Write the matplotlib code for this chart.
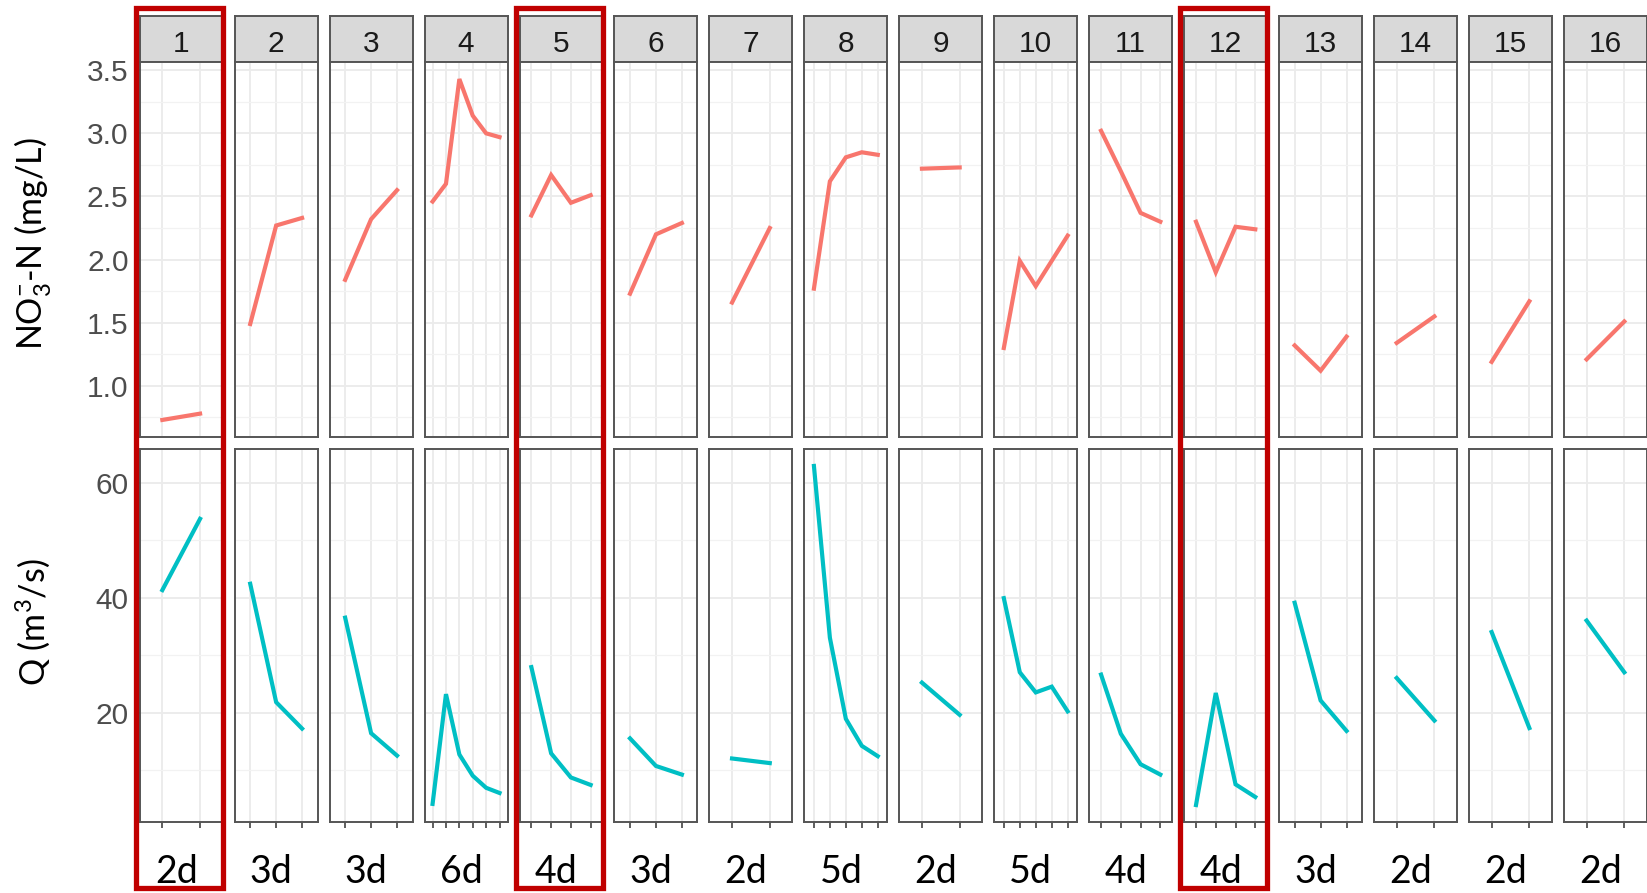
"""Per-event NO3-N and discharge facets, 16 events in one row."""
import matplotlib
matplotlib.use("Agg")
import matplotlib.pyplot as plt
from matplotlib.patches import Rectangle

plt.rcParams["mathtext.fontset"] = "custom"
plt.rcParams["mathtext.rm"] = "Lato"
plt.rcParams["mathtext.it"] = "Lato:italic"

event_ids = [str(i) for i in range(1, 17)]
durations = ["2d", "3d", "3d", "6d", "4d", "3d", "2d", "5d",
             "2d", "5d", "4d", "4d", "3d", "2d", "2d", "2d"]
highlighted = ["1", "5", "12"]

no3 = [
    [0.73, 0.78],
    [1.49, 2.27, 2.33],
    [1.84, 2.32, 2.55],
    [2.46, 2.60, 3.43, 3.14, 3.00, 2.97],
    [2.35, 2.67, 2.45, 2.51],
    [1.73, 2.20, 2.29],
    [1.66, 2.25],
    [1.77, 2.62, 2.81, 2.85, 2.83],
    [2.72, 2.73],
    [1.30, 1.99, 1.79, 1.99, 2.19],
    [3.02, 2.70, 2.37, 2.30],
    [2.30, 1.90, 2.26, 2.24],
    [1.32, 1.12, 1.39],
    [1.34, 1.55],
    [1.19, 1.67],
    [1.21, 1.51],
]
discharge = [
    [41.3, 53.7],
    [42.4, 21.8, 17.2],
    [36.5, 16.4, 12.5],
    [4.1, 23.2, 12.7, 9.0, 6.9, 6.0],
    [27.9, 12.9, 8.7, 7.4],
    [15.5, 10.7, 9.2],
    [12.0, 11.2],
    [62.9, 33.0, 18.9, 14.2, 12.4],
    [25.2, 19.6],
    [39.9, 27.0, 23.5, 24.5, 20.2],
    [26.6, 16.3, 11.0, 9.2],
    [3.9, 23.4, 7.5, 5.3],
    [39.1, 22.1, 16.8],
    [26.0, 18.6],
    [34.0, 17.3],
    [36.0, 27.0],
]

no3_major = [1.0, 1.5, 2.0, 2.5, 3.0, 3.5]
no3_minor = [0.75, 1.25, 1.75, 2.25, 2.75, 3.25]
q_major = [20, 40, 60]
q_minor = [10, 30, 50]

W, H = 1647, 893
X0, STEP, PW = 139.7, 94.95, 83.0
STRIP_TOP, STRIP_BOT = 16, 62
TOP_BOT = 437
BOT_TOP, BOT_BOT = 449, 822

RED = "#F8766D"
CYAN = "#00BFC4"
BORDER = "#555555"


def fx(px):
    return px / W


def fy(py):
    return 1 - py / H


def limits(series):
    lo = min(min(s) for s in series)
    hi = max(max(s) for s in series)
    pad = 0.05 * (hi - lo)
    return lo - pad, hi + pad


def style_panel(ax, n, major, minor, ylim, bottom_ticks, first):
    ax.set_xlim(-0.6, n - 1 + 0.6)
    ax.set_ylim(*ylim)
    ax.set_xticks(range(n))
    ax.set_yticks(major)
    ax.set_yticks(minor, minor=True)
    ax.grid(True, which="major", color="#EBEBEB", lw=1.3)
    ax.grid(True, which="minor", axis="y", color="#F2F2F2", lw=0.9)
    ax.set_axisbelow(True)
    for sp in ax.spines.values():
        sp.set_color(BORDER)
        sp.set_linewidth(1.4)
    ax.tick_params(axis="x", labelbottom=False, length=4 if bottom_ticks else 0,
                   width=1.1, color="#333333")
    ax.tick_params(axis="y", which="minor", length=0)
    ax.tick_params(axis="y", which="major", length=4 if first else 0,
                   width=1.1, color="#333333", labelleft=first,
                   labelsize=21.5, labelcolor="#4D4D4D", pad=4)
    for lab in ax.get_yticklabels():
        lab.set_family("Liberation Sans")


fig = plt.figure(figsize=(W / 100, H / 100), dpi=100)

no3_lim = limits(no3)
q_lim = limits(discharge)

for i, eid in enumerate(event_ids):
    left = X0 + i * STEP
    n = len(no3[i])

    strip = fig.add_axes([fx(left), fy(STRIP_BOT), fx(PW), (STRIP_BOT - STRIP_TOP) / H])
    strip.set_facecolor("#D9D9D9")
    strip.set_xticks([])
    strip.set_yticks([])
    for sp in strip.spines.values():
        sp.set_color(BORDER)
        sp.set_linewidth(1.4)
    fig.text(fx(left + PW / 2), fy(52), eid, ha="center", va="baseline",
             fontsize=21.5, color="#1A1A1A", family="Liberation Sans")

    ax1 = fig.add_axes([fx(left), fy(TOP_BOT), fx(PW), (TOP_BOT - STRIP_BOT) / H])
    ax1.plot(range(n), no3[i], color=RED, lw=3.0, solid_joinstyle="miter")
    style_panel(ax1, n, no3_major, no3_minor, no3_lim, False, i == 0)
    if i == 0:
        ax1.set_yticklabels([f"{v:.1f}" for v in no3_major])

    ax2 = fig.add_axes([fx(left), fy(BOT_BOT), fx(PW), (BOT_BOT - BOT_TOP) / H])
    ax2.plot(range(n), discharge[i], color=CYAN, lw=3.0, solid_joinstyle="miter")
    style_panel(ax2, n, q_major, q_minor, q_lim, True, i == 0)

    fig.text(fx(left + PW / 2 - 5), fy(883), durations[i], ha="center",
             va="baseline", fontsize=27, color="black", family="Lato")

    if eid in highlighted:
        fig.add_artist(Rectangle((fx(left - 4), fy(888)), fx(PW + 4),
                                 (888 - 8) / H, transform=fig.transFigure,
                                 fill=False, ec="#C00000", lw=3.8, zorder=10))

fig.text(fx(33), fy(244), r"NO$_3^{-}$-N (mg/L)", rotation=90, ha="center",
         va="center", fontsize=24.5, family="Lato")
fig.text(fx(33), fy(622), r"Q (m$^3$/s)", rotation=90, ha="center",
         va="center", fontsize=24.5, family="Lato")

fig.savefig("out.png", dpi=100)
print("wrote out.png")
